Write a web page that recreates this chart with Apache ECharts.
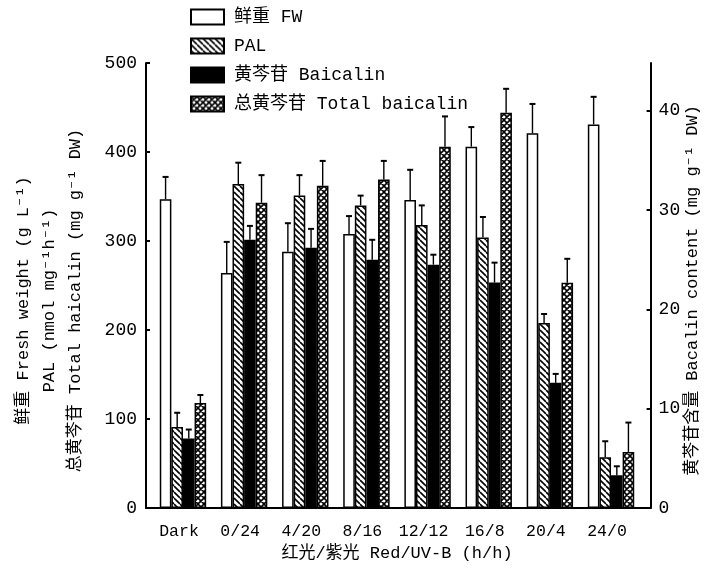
<!DOCTYPE html>
<html><head><meta charset="utf-8">
<script src="https://cdn.jsdelivr.net/npm/echarts@6/dist/echarts.min.js"></script>
<style>html,body{margin:0;padding:0;background:#fff}#c{width:713px;height:573px}</style>
</head><body><div id="c"></div>
<script>
const categories = ['Dark', '0/24', '4/20', '8/16', '12/12', '16/8', '20/4', '24/0'];
const fw = [347, 264, 288, 308, 346, 406, 421, 431];
const fwErr = [25, 35, 32, 20, 34, 22, 33, 31];
const pal = [91, 364, 351, 340, 318, 304, 208, 57];
const palErr = [16, 24, 23, 11, 22, 23, 10, 18];
const baicalin = [7.0, 27.0, 26.2, 25.0, 24.5, 22.7, 12.6, 3.3];
const baicalinErr = [0.9, 1.4, 1.9, 2.0, 1.0, 2.0, 0.9, 0.9];
const total = [118, 343, 362, 369, 406, 444, 253, 63];
const totalErr = [9, 31, 28, 21, 34, 27, 27, 33];
const leftTicks = [0, 100, 200, 300, 400, 500];
const rightTicks = [0, 10, 20, 30, 40];

const names = ['鲜重 FW', 'PAL', '黄芩苷 Baicalin', '总黄芩苷 Total baicalin'];
const FONT = "'Liberation Mono', 'Noto Sans CJK SC', monospace";
const BAR_W = 11.6;

function pattern(size, draw) {
  const c = document.createElement('canvas');
  c.width = c.height = size;
  const ctx = c.getContext('2d');
  ctx.fillStyle = '#fff';
  ctx.fillRect(0, 0, size, size);
  ctx.strokeStyle = '#000';
  ctx.lineWidth = 1.6;
  draw(ctx, size);
  return { image: c, repeat: 'repeat' };
}
const palFill = pattern(6, (ctx, s) => {
  ctx.beginPath();
  for (let k = -s; k <= s; k += s) { ctx.moveTo(k, 0); ctx.lineTo(k + s, s); }
  ctx.stroke();
});
const totalFill = pattern(6, (ctx, s) => {
  ctx.beginPath();
  for (let k = -s; k <= s; k += s) {
    ctx.moveTo(k, 0); ctx.lineTo(k + s, s);
    ctx.moveTo(k + s, 0); ctx.lineTo(k, s);
  }
  ctx.stroke();
});

function errSeries(idx, vals, errs, yAxisIndex) {
  return {
    type: 'custom', xAxisIndex: 0, yAxisIndex: yAxisIndex, z: 5,
    data: vals.map((v, i) => [i, v, errs[i]]),
    renderItem: function (params, api) {
      const p1 = api.coord([api.value(0), api.value(1)]);
      const p2 = api.coord([api.value(0), api.value(1) + api.value(2)]);
      const cx = p1[0] + (idx - 1.5) * BAR_W;
      return { type: 'group', children: [
        { type: 'line', shape: { x1: cx, y1: p1[1], x2: cx, y2: p2[1] }, style: { stroke: '#000', lineWidth: 1.4 } },
        { type: 'line', shape: { x1: cx - 3, y1: p2[1], x2: cx + 3, y2: p2[1] }, style: { stroke: '#000', lineWidth: 2 } }
      ] };
    }
  };
}

const barBase = { type: 'bar', xAxisIndex: 0, barWidth: BAR_W, barGap: '0%' };
const chart = echarts.init(document.getElementById('c'), null, { renderer: 'canvas' });
chart.setOption({
  backgroundColor: '#fff',
  animation: false,
  textStyle: { fontFamily: FONT, color: '#000' },
  legend: {
    data: names, orient: 'vertical', left: 190, top: 8, padding: 0,
    itemWidth: 33, itemHeight: 15, itemGap: 11, icon: 'rect',
    textStyle: { fontFamily: FONT, fontSize: 18, color: '#000', padding: [0, 0, 0, 5] }
  },
  grid: [
    { left: 152.4, right: 71.4, top: 63, bottom: 65 },
    { left: 146, right: 62.4, top: 63, bottom: 65 }
  ],
  xAxis: [
    {
      type: 'category', gridIndex: 0, data: categories,
      axisLine: { show: false }, axisTick: { show: false },
      axisLabel: { interval: 0, fontFamily: FONT, fontSize: 16.5, color: '#000', margin: 15, padding: [0, 8, 0, 0] },
      name: '红光/紫光 Red/UV-B (h/h)', nameLocation: 'middle', nameGap: 37,
      nameTextStyle: { fontFamily: FONT, fontSize: 17, color: '#000' }
    },
    {
      type: 'value', gridIndex: 1, min: 0, max: 1,
      axisLine: { show: true, lineStyle: { color: '#000', width: 2 } },
      axisTick: { show: false }, axisLabel: { show: false }, splitLine: { show: false }
    }
  ],
  yAxis: [
    {
      type: 'value', gridIndex: 0, min: 0, max: 500, interval: 100, offset: 6.4,
      axisLine: { show: true, lineStyle: { color: '#000', width: 2 } },
      axisTick: { show: true, inside: true, length: 4, lineStyle: { color: '#000', width: 2 }, customValues: leftTicks },
      axisLabel: { fontFamily: FONT, fontSize: 18, color: '#000', margin: 9, customValues: leftTicks },
      splitLine: { show: false },
      name: '鲜重 Fresh weight (g L⁻¹)\nPAL (nmol mg⁻¹h⁻¹)\n总黄芩苷 Total haicalin (mg g⁻¹ DW)',
      nameLocation: 'middle', nameRotate: 90, nameGap: 58,
      nameTextStyle: { fontFamily: FONT, fontSize: 17, color: '#000', lineHeight: 26, align: 'center', padding: [0, 30, 0, 0] }
    },
    {
      type: 'value', gridIndex: 0, position: 'right', min: 0, max: 44.8, interval: 10, offset: 9,
      axisLine: { show: true, lineStyle: { color: '#000', width: 2 } },
      axisTick: { show: true, inside: true, length: 4, lineStyle: { color: '#000', width: 2 }, customValues: rightTicks },
      axisLabel: { fontFamily: FONT, fontSize: 18, color: '#000', margin: 8, customValues: rightTicks },
      splitLine: { show: false },
      name: '黄芩苷含量 Bacalin content (mg g⁻¹ DW)',
      nameLocation: 'middle', nameRotate: 90, nameGap: 33, nameMoveOverlap: false,
      nameTextStyle: { fontFamily: FONT, fontSize: 17, color: '#000', padding: [0, 10, 0, 0] }
    },
    { type: 'value', gridIndex: 1, show: false, min: 0, max: 1 }
  ],
  series: [
    Object.assign({}, barBase, { name: names[0], yAxisIndex: 0, data: fw, itemStyle: { color: '#fff', borderColor: '#000', borderWidth: 1.5 } }),
    Object.assign({}, barBase, { name: names[1], yAxisIndex: 0, data: pal, itemStyle: { color: palFill, borderColor: '#000', borderWidth: 1.5 } }),
    Object.assign({}, barBase, { name: names[2], yAxisIndex: 1, data: baicalin, itemStyle: { color: '#000', borderColor: '#000', borderWidth: 1.5 } }),
    Object.assign({}, barBase, { name: names[3], yAxisIndex: 0, data: total, itemStyle: { color: totalFill, borderColor: '#000', borderWidth: 1.5 } }),
    errSeries(0, fw, fwErr, 0),
    errSeries(1, pal, palErr, 0),
    errSeries(2, baicalin, baicalinErr, 1),
    errSeries(3, total, totalErr, 0)
  ]
});
</script></body></html>
